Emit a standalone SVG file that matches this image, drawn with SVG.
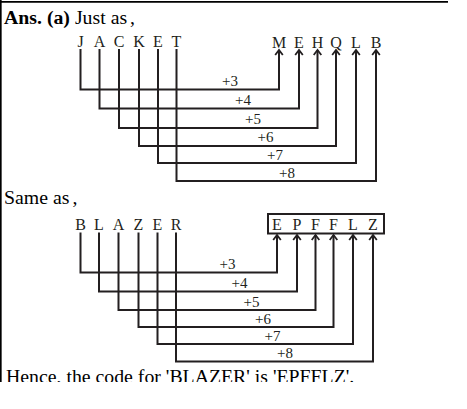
<svg xmlns="http://www.w3.org/2000/svg" width="467" height="409" viewBox="0 0 467 409">
<style>
.hd{font-family:"Liberation Serif","Times New Roman",serif;fill:#000;font-size:19.8px}
.lt{font-family:"Liberation Serif","Times New Roman",serif;font-size:16px;fill:#231f20;text-anchor:middle}
.lb{font-family:"Liberation Serif","Times New Roman",serif;font-size:15px;fill:#231f20;text-anchor:middle}
.cn{fill:none;stroke:#231f20;stroke-width:2}
.bd{stroke:#000;stroke-width:1.7;fill:none}
</style>
<defs>
<marker id="ah" viewBox="-6 -5 8 10" markerWidth="8" markerHeight="10" refX="0" refY="0" orient="auto" markerUnits="userSpaceOnUse">
<path d="M-5,-3.8 L0,0 L-5,3.8" fill="none" stroke="#231f20" stroke-width="1.8"/>
</marker>
<clipPath id="cl"><rect x="0" y="0" width="467" height="382"/></clipPath>
</defs>
<rect width="467" height="409" fill="#fff"/>
<g id="frame">
<path class="bd" d="M0.8,0 V382 M0,1.8 H448"/>
</g>
<g id="header">
<text class="hd" x="4" y="24"><tspan font-weight="bold">Ans. (a)</tspan> Just as<tspan dx="3">,</tspan></text>
</g>
<g id="connectors1">
<path class="cn" marker-end="url(#ah)" d="M80.5,49 V89.5 H279 V50"/>
<path class="cn" marker-end="url(#ah)" d="M99.5,49 V108.5 H299 V50"/>
<path class="cn" marker-end="url(#ah)" d="M119,49 V128 H317.5 V50"/>
<path class="cn" marker-end="url(#ah)" d="M139,49 V146 H336 V50"/>
<path class="cn" marker-end="url(#ah)" d="M158,49 V163 H356 V50"/>
<path class="cn" marker-end="url(#ah)" d="M176.5,49 V181 H376 V50"/>
</g>
<g id="labels1">
<text class="lb" x="230" y="86">+3</text>
<text class="lb" x="243" y="105">+4</text>
<text class="lb" x="253" y="124">+5</text>
<text class="lb" x="265.5" y="142">+6</text>
<text class="lb" x="275" y="160">+7</text>
<text class="lb" x="287" y="178">+8</text>
</g>
<g id="jacket">
<g id="s1-J"><text class="lt" x="80.5" y="47">J</text></g>
<g id="s1-A"><text class="lt" x="99.5" y="47">A</text></g>
<g id="s1-C"><text class="lt" x="119" y="47">C</text></g>
<g id="s1-K"><text class="lt" x="139" y="47">K</text></g>
<g id="s1-E"><text class="lt" x="158" y="47">E</text></g>
<g id="s1-T"><text class="lt" x="176.5" y="47">T</text></g>
</g>
<g id="mehqlb">
<g id="t1-M"><text class="lt" x="279" y="47.5">M</text></g>
<g id="t1-E"><text class="lt" x="299" y="47.5">E</text></g>
<g id="t1-H"><text class="lt" x="317.5" y="47.5">H</text></g>
<g id="t1-Q"><text class="lt" x="336" y="47.5">Q</text></g>
<g id="t1-L"><text class="lt" x="356" y="47.5">L</text></g>
<g id="t1-B"><text class="lt" x="376" y="47.5">B</text></g>
</g>
<g id="same">
<text class="hd" x="4" y="204">Same as<tspan dx="3">,</tspan></text>
</g>
<g id="connectors2">
<path class="cn" marker-end="url(#ah)" d="M80.5,232.5 V272.5 H277 V235"/>
<path class="cn" marker-end="url(#ah)" d="M99,232.5 V291.5 H297 V235"/>
<path class="cn" marker-end="url(#ah)" d="M118.5,232.5 V310 H315.5 V235"/>
<path class="cn" marker-end="url(#ah)" d="M138.5,232.5 V327 H333.5 V235"/>
<path class="cn" marker-end="url(#ah)" d="M157.5,232.5 V344 H353 V235"/>
<path class="cn" marker-end="url(#ah)" d="M176,232.5 V361.5 H373 V235"/>
</g>
<g id="labels2">
<text class="lb" x="227.5" y="269">+3</text>
<text class="lb" x="239.5" y="288">+4</text>
<text class="lb" x="251.5" y="306.5">+5</text>
<text class="lb" x="263" y="323.5">+6</text>
<text class="lb" x="272.5" y="340.5">+7</text>
<text class="lb" x="285" y="358">+8</text>
</g>
<g id="blazer">
<g id="s2-B"><text class="lt" x="80.5" y="229.5">B</text></g>
<g id="s2-L"><text class="lt" x="99" y="229.5">L</text></g>
<g id="s2-A"><text class="lt" x="118.5" y="229.5">A</text></g>
<g id="s2-Z"><text class="lt" x="138.5" y="229.5">Z</text></g>
<g id="s2-E"><text class="lt" x="157.5" y="229.5">E</text></g>
<g id="s2-R"><text class="lt" x="176" y="229.5">R</text></g>
</g>
<g id="epfflz">
<rect x="268" y="214" width="116" height="19.5" fill="none" stroke="#231f20" stroke-width="2"/>
<g id="t2-E"><text class="lt" x="277" y="230">E</text></g>
<g id="t2-P"><text class="lt" x="297" y="230">P</text></g>
<g id="t2-F1"><text class="lt" x="315.5" y="230">F</text></g>
<g id="t2-F2"><text class="lt" x="333.5" y="230">F</text></g>
<g id="t2-L"><text class="lt" x="353" y="230">L</text></g>
<g id="t2-Z"><text class="lt" x="373" y="230">Z</text></g>
</g>
<g id="footer" clip-path="url(#cl)">
<text class="hd" x="6" y="382.5">Hence, the code for 'BLAZER' is 'EPFFLZ'.</text>
</g>
</svg>
